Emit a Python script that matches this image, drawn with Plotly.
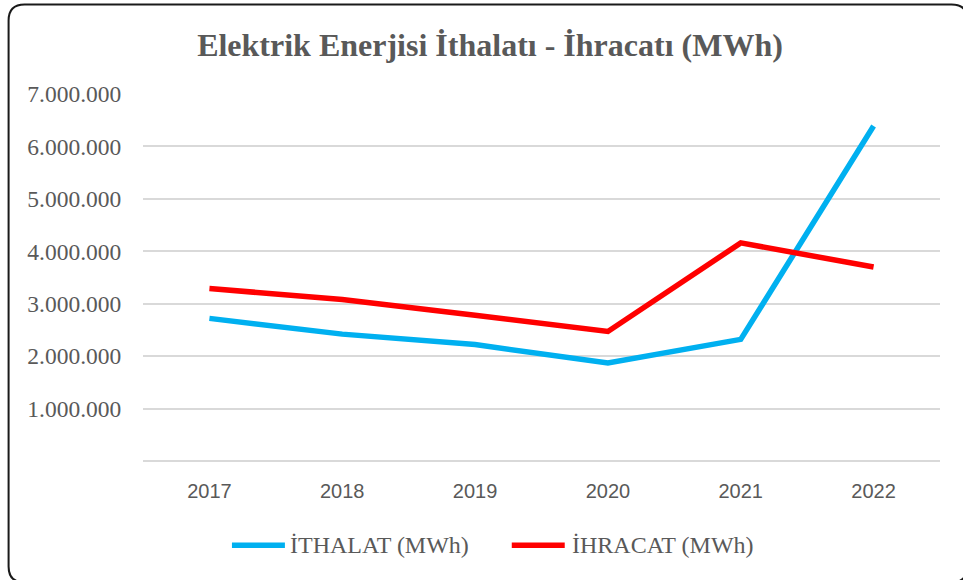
import plotly.graph_objects as go

years = ["2017", "2018", "2019", "2020", "2021", "2022"]
ithalat = [2720000, 2420000, 2220000, 1870000, 2320000, 6390000]
ihracat = [3290000, 3080000, 2780000, 2470000, 4160000, 3700000]
y_tickvals = [1000000, 2000000, 3000000, 4000000, 5000000, 6000000, 7000000]
y_ticktext = ["1.000.000", "2.000.000", "3.000.000", "4.000.000", "5.000.000", "6.000.000", "7.000.000"]
series_names = ["İTHALAT (MWh)", "İHRACAT (MWh)"]
series_colors = ["#00B0F0", "#FF0000"]

W, H = 963, 580
L, R, T, B = 143, 22.5, 94, 119.3
pw, ph = W - L - R, H - T - B

def px(x):
    return (x - L) / pw

def py(y):
    return (H - B - y) / ph

TXT = "#595959"
fig = go.Figure()
for name, vals, col in zip(series_names, [ithalat, ihracat], series_colors):
    fig.add_trace(go.Scatter(x=years, y=vals, mode="lines", name=name,
                             line=dict(color=col, width=5.5), showlegend=False))

# rounded chart frame
x0, y0, x1, y1, r = 8.5, 4.5, 968, 582, 16
pts = [
    ("M", [(x0 + r, y0)]), ("L", [(x1 - r, y0)]), ("Q", [(x1, y0), (x1, y0 + r)]),
    ("L", [(x1, y1 - r)]), ("Q", [(x1, y1), (x1 - r, y1)]),
    ("L", [(x0 + r, y1)]), ("Q", [(x0, y1), (x0, y1 - r)]),
    ("L", [(x0, y0 + r)]), ("Q", [(x0, y0), (x0 + r, y0)]),
]
path = " ".join(c + " " + " ".join(f"{px(a):.5f},{py(b):.5f}" for a, b in p) for c, p in pts) + " Z"
fig.add_shape(type="path", path=path, xref="paper", yref="paper",
              line=dict(color="#1a1a1a", width=2), layer="below")

# legend (drawn like the Excel legend)
leg_y = 545
for (lx0, lx1, tx), name, col in zip([(232, 285, 288), (512, 565, 570)], series_names, series_colors):
    fig.add_shape(type="line", xref="paper", yref="paper",
                  x0=px(lx0), x1=px(lx1), y0=py(leg_y), y1=py(leg_y),
                  line=dict(color=col, width=5.5))
    fig.add_annotation(text=name, xref="paper", yref="paper", x=px(tx), y=py(leg_y),
                       xanchor="left", yanchor="middle", showarrow=False,
                       font=dict(family="Liberation Serif", size=24, color=TXT))

fig.update_layout(
    width=W, height=H,
    margin=dict(l=L, r=R, t=T, b=B),
    paper_bgcolor="white", plot_bgcolor="white",
    title=dict(text="<b>Elektrik Enerjisi İthalatı - İhracatı (MWh)</b>",
               x=490 / W, xanchor="center", xref="container",
               y=1 - 45 / H, yanchor="middle", yref="container",
               font=dict(family="Liberation Serif", size=32, color=TXT)),
    xaxis=dict(type="category", range=[-0.5, 5.5], showgrid=False, showline=False,
               ticks="outside", ticklen=12, tickcolor="rgba(0,0,0,0)",
               tickfont=dict(family="Liberation Sans", size=20, color=TXT)),
    yaxis=dict(range=[0, 7000000], tickvals=y_tickvals, ticktext=y_ticktext,
               showgrid=True, gridcolor="#D9D9D9", gridwidth=1.5,
               zeroline=True, zerolinecolor="#D9D9D9", zerolinewidth=1.5,
               showline=False, ticks="outside", ticklen=16, tickcolor="rgba(0,0,0,0)",
               tickfont=dict(family="Liberation Serif", size=23.5, color=TXT)),
    showlegend=False,
)
fig.write_html("out.html", config={"displayModeBar": False},
               post_script="document.body.style.margin='0px';")
